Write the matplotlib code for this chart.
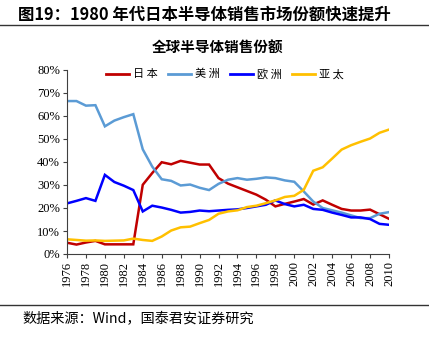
import matplotlib
matplotlib.use('Agg')
import matplotlib.pyplot as plt
from matplotlib.lines import Line2D
from matplotlib.ticker import PercentFormatter

# Market share of global semiconductor sales (%)
years = list(range(1976, 2011))
japan = [4.9, 4.1, 5.0, 5.7, 4.2, 4.2, 4.2, 4.2, 30.1, 35.2, 39.9, 39.0, 40.5, 39.7, 38.9, 38.9,
         33.0, 30.6, 29.0, 27.4, 25.8, 23.6, 20.7, 21.8, 22.8, 23.9, 21.5, 23.3, 21.4, 19.6, 18.9,
         18.9, 19.3, 17.3, 15.3]
america = [66.5, 66.5, 64.5, 64.7, 55.5, 58.0, 59.5, 60.8, 45.5, 38.0, 32.5, 31.8, 29.8, 30.2, 28.8,
           27.8, 30.5, 32.3, 33.0, 32.3, 32.7, 33.3, 33.0, 32.0, 31.4, 27.2, 22.8, 20.0, 19.0, 18.0,
           16.8, 15.6, 15.6, 17.5, 18.2]
europe = [22.0, 23.1, 24.3, 23.1, 34.4, 31.3, 29.7, 27.8, 18.5, 21.0, 20.2, 19.2, 18.0, 18.3, 18.9,
          18.6, 18.9, 19.2, 19.4, 20.0, 20.7, 21.4, 23.3, 21.7, 20.7, 21.4, 19.6, 19.2, 18.0, 17.0,
          15.9, 15.9, 15.2, 13.1, 12.7]
asia = [6.4, 6.1, 5.8, 5.9, 5.7, 5.8, 5.9, 6.7, 6.1, 5.7, 7.6, 10.2, 11.6, 11.9, 13.4, 14.8,
        17.5, 18.5, 19.0, 20.4, 21.0, 22.1, 23.3, 24.8, 25.3, 27.9, 36.2, 37.7, 41.5, 45.4, 47.3,
        48.8, 50.2, 52.7, 54.1]
series_names = ['日 本', '美 洲', '欧 洲', '亚 太']

cjk = ['Noto Sans CJK SC', 'DejaVu Sans']
serif = 'Liberation Serif'
colors = ['#C00000', '#5B9BD5', '#0000FF', '#FFC000']

fig = plt.figure(figsize=(4.29, 3.38), dpi=100)
W, H = 429, 338
ax = fig.add_axes([67 / W, 1 - 254 / H, (389 - 67) / W, (254 - 70) / H])

for vals, c in zip([japan, america, europe, asia], colors):
    ax.plot(years, vals, color=c, lw=1.8, solid_joinstyle='miter')

ax.set_xlim(1976, 2010)
ax.set_ylim(0, 80)
ax.set_xticks(range(1976, 2011, 2))
ax.set_xticklabels([str(y) for y in range(1976, 2011, 2)], rotation=90,
                   fontfamily=serif, fontsize=9)
ax.set_yticks(range(0, 81, 10))
ax.yaxis.set_major_formatter(PercentFormatter(decimals=0))
for lbl in ax.get_yticklabels():
    lbl.set_fontfamily(serif)
    lbl.set_fontsize(9)
ax.tick_params(length=3, width=0.8, color='#404040', pad=2)
for s in ['top', 'right']:
    ax.spines[s].set_visible(False)
for s in ['left', 'bottom']:
    ax.spines[s].set_color('#404040')
    ax.spines[s].set_linewidth(0.8)

handles = [Line2D([0], [0], color=c, lw=2) for c in colors]
leg = ax.legend(handles, series_names, ncol=4, loc='upper left',
                bbox_to_anchor=((98 - 67) / (389 - 67), 1.05), frameon=False,
                handlelength=2.1, columnspacing=0.9, handletextpad=0.35, borderpad=0.2,
                prop={'family': cjk, 'size': 8})

fig.text(18 / W, 1 - 15 / H, '图19：1980 年代日本半导体销售市场份额快速提升',
         fontfamily=cjk, fontsize=11.8, fontweight='bold', va='center', ha='left')
fig.add_artist(Line2D([0, 1], [1 - 25 / H, 1 - 25 / H], color='#333333', lw=1))
fig.text(218 / W, 1 - 47 / H, '全球半导体销售份额', fontfamily=cjk, fontsize=10.5,
         fontweight='bold', va='center', ha='center')
fig.add_artist(Line2D([0, 1], [1 - 305 / H, 1 - 305 / H], color='#333333', lw=1))
fig.text(22 / W, 1 - 319 / H, '数据来源：Wind，国泰君安证券研究', fontfamily=cjk,
         fontsize=10.2, va='center', ha='left')

fig.savefig('out.png', dpi=100)
